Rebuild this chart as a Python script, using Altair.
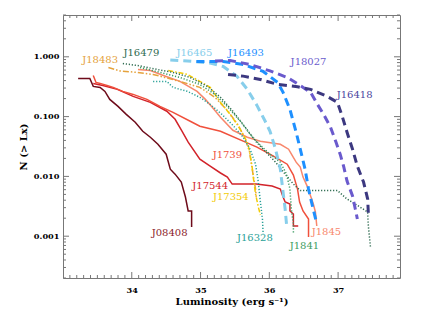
import altair as alt
import pandas as pd
import numpy as np

# ---- data: log luminosity (erg/s) vs cumulative fraction N(>Lx) ----
J08408_L = [33.22, 33.39, 33.44, 33.54, 33.61, 33.68, 33.80, 33.92, 34.05, 34.16, 34.27, 34.38, 34.50, 34.56, 34.63, 34.72, 34.78, 34.82, 34.87, 34.87]
J08408_N = [0.435, 0.435, 0.320, 0.308, 0.264, 0.194, 0.148, 0.109, 0.0804, 0.0569, 0.0452, 0.0345, 0.0235, 0.0132, 0.0109, 0.00804, 0.00452, 0.00264, 0.00264, 0.00143]

J17544_L = [33.44, 33.58, 33.79, 34.02, 34.27, 34.51, 34.63, 34.73, 34.82, 34.99, 35.14, 35.29, 35.39, 35.46, 35.81, 36.04, 36.16, 36.20, 36.23, 36.30, 36.30, 36.35, 36.35, 36.42]
J17544_N = [0.359, 0.332, 0.285, 0.218, 0.173, 0.123, 0.0902, 0.0569, 0.0373, 0.0194, 0.0148, 0.0114, 0.00973, 0.00744, 0.00744, 0.00689, 0.00614, 0.00452, 0.00373, 0.00345, 0.00264, 0.00235, 0.00148, 0.00148]

J1739_L = [33.44, 33.48, 33.54, 33.64, 33.73, 33.87, 34.02, 34.22, 34.41, 34.60, 34.85, 34.99, 35.29, 35.62, 35.82, 36.06, 36.26, 36.35, 36.41, 36.44, 36.49, 36.57, 36.57]
J1739_N = [0.488, 0.373, 0.359, 0.332, 0.308, 0.264, 0.235, 0.194, 0.148, 0.118, 0.0835, 0.0689, 0.0569, 0.0388, 0.0308, 0.0218, 0.0160, 0.0105, 0.00614, 0.00373, 0.00264, 0.00194, 0.000973]

J1845_L = [34.09, 34.27, 34.46, 34.70, 34.95, 35.07, 35.17, 35.29, 35.47, 35.68, 35.87, 36.16, 36.28, 36.33, 36.39, 36.45, 36.49, 36.55, 36.60, 36.64, 36.67, 36.69]
J1845_N = [0.614, 0.591, 0.488, 0.388, 0.264, 0.194, 0.143, 0.0973, 0.0591, 0.0452, 0.0388, 0.0345, 0.0285, 0.0226, 0.0173, 0.0143, 0.00973, 0.00689, 0.00470, 0.00345, 0.00254, 0.00148]

J18483_L = [33.66, 33.83, 34.08, 34.31, 34.48, 34.75, 34.99, 35.21, 35.40, 35.55, 35.65, 35.71, 35.74, 35.77, 35.80, 35.81]
J18483_N = [0.663, 0.580, 0.548, 0.507, 0.452, 0.373, 0.308, 0.210, 0.123, 0.0716, 0.0418, 0.0264, 0.0160, 0.00973, 0.00614, 0.00452]

J17354_L = [34.53, 34.81, 34.99, 35.14, 35.29, 35.43, 35.53, 35.62, 35.69, 35.72, 35.75, 35.77, 35.80, 35.84, 35.87]
J17354_N = [0.591, 0.507, 0.388, 0.308, 0.173, 0.109, 0.0744, 0.0507, 0.0345, 0.0235, 0.0143, 0.00902, 0.00507, 0.00308, 0.00226]

J16479_L = [33.87, 34.12, 34.37, 34.60, 34.85, 35.10, 35.29, 35.47, 35.65, 35.80, 35.94, 36.09, 36.23, 36.35, 36.45, 36.99, 37.13, 37.25, 37.43, 37.44, 37.47]
J16479_N = [0.773, 0.703, 0.614, 0.548, 0.452, 0.320, 0.210, 0.123, 0.0663, 0.0388, 0.0264, 0.0173, 0.0109, 0.00744, 0.00580, 0.00580, 0.00418, 0.00345, 0.00254, 0.00148, 0.000663]

J1841_L = [34.12, 34.41, 34.70, 34.99, 35.21, 35.40, 35.58, 35.72, 35.87, 36.01, 36.16, 36.25, 36.30, 36.32, 36.35, 36.35]
J1841_N = [0.663, 0.548, 0.452, 0.345, 0.235, 0.143, 0.0835, 0.0507, 0.0332, 0.0235, 0.0173, 0.0109, 0.00614, 0.00285, 0.00160, 0.00109]

J16328_L = [34.31, 34.51, 34.60, 34.81, 34.99, 35.14, 35.31, 35.47, 35.62, 35.72, 35.80, 35.84, 35.87, 35.90, 35.91]
J16328_N = [0.388, 0.388, 0.308, 0.264, 0.210, 0.160, 0.109, 0.0716, 0.0452, 0.0285, 0.0160, 0.00804, 0.00373, 0.00194, 0.00109]

J16465_L = [34.56, 34.81, 35.14, 35.33, 35.53, 35.68, 35.82, 35.94, 36.01, 36.09, 36.16, 36.20, 36.23, 36.25]
J16465_N = [0.884, 0.851, 0.788, 0.689, 0.470, 0.285, 0.154, 0.0835, 0.0569, 0.0285, 0.0132, 0.00547, 0.00285, 0.00160]

J16493_L = [34.94, 35.33, 35.62, 35.91, 36.12, 36.20, 36.30, 36.39, 36.45, 36.52, 36.57, 36.62, 36.68]
J16493_N = [0.835, 0.835, 0.744, 0.569, 0.373, 0.254, 0.132, 0.0547, 0.0285, 0.0132, 0.00614, 0.00345, 0.00180]

J18027_L = [35.21, 35.43, 35.72, 36.01, 36.26, 36.45, 36.60, 36.70, 36.79, 36.89, 36.97, 37.03, 37.08, 37.13, 37.21, 37.25, 37.28]
J18027_N = [0.851, 0.868, 0.744, 0.580, 0.452, 0.332, 0.254, 0.160, 0.109, 0.0663, 0.0373, 0.0235, 0.0148, 0.00835, 0.00470, 0.00285, 0.00194]

J16418_L = [35.40, 35.62, 35.87, 36.12, 36.41, 36.60, 36.84, 36.99, 37.06, 37.13, 37.21, 37.28, 37.37, 37.43, 37.44]
J16418_N = [0.507, 0.475, 0.418, 0.345, 0.316, 0.285, 0.218, 0.173, 0.101, 0.0547, 0.0285, 0.0148, 0.00804, 0.00418, 0.00235]

label_text = ["J18483", "J16479", "J16465", "J16493", "J18027", "J16418", "J1739", "J17544", "J17354", "J08408", "J16328", "J1841", "J1845"]
label_L = [33.54, 34.14, 34.91, 35.66, 36.57, 37.24, 35.39, 35.14, 35.44, 34.55, 35.79, 36.51, 36.83]
label_N = [0.88, 1.18, 1.18, 1.16, 0.82, 0.227, 0.0232, 0.0068, 0.0046, 0.00112, 0.00093, 0.00069, 0.00117]

x_major = [34, 35, 36, 37]
y_major = [0.001, 0.01, 0.1, 1.0]

# ---- styles ----
STYLE = {
    "J08408": dict(color="#6E0B1A", strokeWidth=1.5),
    "J17544": dict(color="#D2232A", strokeWidth=1.5),
    "J1739": dict(color="#F0503C", strokeWidth=1.5),
    "J1845": dict(color="#F8876C", strokeWidth=1.5),
    "J18483": dict(color="#E5A23C", strokeWidth=1.5, strokeDash=[6, 2, 1.5, 2, 1.5, 2]),
    "J17354": dict(color="#F2CB05", strokeWidth=1.5, strokeDash=[5, 2, 1.5, 2]),
    "J16479": dict(color="#2E6B50", strokeWidth=1.5, strokeDash=[1.2, 1.8]),
    "J1841": dict(color="#3D9C62", strokeWidth=1.5, strokeDash=[1.2, 1.8]),
    "J16328": dict(color="#2AA198", strokeWidth=1.5, strokeDash=[1.2, 1.8]),
    "J16465": dict(color="#87CEEB", strokeWidth=3, strokeDash=[8, 5]),
    "J16493": dict(color="#1E90FF", strokeWidth=3, strokeDash=[8, 5]),
    "J18027": dict(color="#6A5ACD", strokeWidth=3, strokeDash=[8, 5]),
    "J16418": dict(color="#3C3880", strokeWidth=3, strokeDash=[8, 5]),
}
LABEL_COLOR = {
    "J18483": "#E5A23C", "J16479": "#2E6B50", "J16465": "#87CEEB", "J16493": "#1E90FF",
    "J18027": "#6A5ACD", "J16418": "#4A44A0", "J1739": "#F0503C", "J17544": "#D2232A",
    "J17354": "#F2CB05", "J08408": "#8B1B2B", "J16328": "#2AA198", "J1841": "#3D9C62",
    "J1845": "#F8876C",
}

curves = {
    "J08408": (J08408_L, J08408_N), "J17544": (J17544_L, J17544_N),
    "J1739": (J1739_L, J1739_N), "J1845": (J1845_L, J1845_N),
    "J18483": (J18483_L, J18483_N), "J17354": (J17354_L, J17354_N),
    "J16479": (J16479_L, J16479_N), "J1841": (J1841_L, J1841_N),
    "J16328": (J16328_L, J16328_N), "J16465": (J16465_L, J16465_N),
    "J16493": (J16493_L, J16493_N), "J18027": (J18027_L, J18027_N),
    "J16418": (J16418_L, J16418_N),
}

W, H = 337, 263
FONT = "DejaVu Serif"
TC = "#777777"

xs = alt.Scale(domain=[33.0, 37.9], nice=False, zero=False)
ys = alt.Scale(type="log", domain=[2e-4, 5], nice=False)

x_axis = alt.Axis(values=x_major, format="d", ticks=False, tickSize=0, domain=False, grid=False,
                  labelPadding=8, title="Luminosity (erg s\u207b\u00b9)", titlePadding=3)
y_axis = alt.Axis(values=y_major, format=".3f", ticks=False, tickSize=0, domain=False, grid=False,
                  labelPadding=4, title="N (> Lx)", titlePadding=5)

X = lambda f: alt.X(f, scale=xs, axis=x_axis)
Y = lambda f: alt.Y(f, scale=ys, axis=y_axis)

layers = []
for name, (Ls, Ns) in curves.items():
    df = pd.DataFrame({"L": Ls, "N": Ns, "i": list(range(len(Ls)))})
    layers.append(
        alt.Chart(df).mark_line(clip=True, **STYLE[name]).encode(
            x=X("L:Q"), y=Y("N:Q"), order="i:Q",
        )
    )

# labels
lab_df = pd.DataFrame({"L": label_L, "N": label_N, "t": label_text,
                       "c": [LABEL_COLOR[t] for t in label_text]})
layers.append(
    alt.Chart(lab_df).mark_text(font=FONT, fontSize=10, align="center", baseline="middle").encode(
        x=X("L:Q"), y=Y("N:Q"),
        text="t:N",
        color=alt.Color("c:N", scale=None),
    )
)

# inward ticks (IDL style)
x_all = np.round(np.arange(33.1, 37.85, 0.1), 2)
x_minor = [v for v in x_all if abs(v - round(v)) > 1e-6]
y_minor = []
for d in range(-4, 1):
    for k in range(2, 10):
        v = k * 10.0 ** d
        if 2e-4 <= v <= 5:
            y_minor.append(v)

def xticks(vals, length):
    df = pd.DataFrame({"L": vals})
    bot = alt.Chart(df).mark_rule(color=TC, strokeWidth=1).encode(
        x=X("L:Q"), y=alt.value(H), y2=alt.value(H - length))
    top = alt.Chart(df).mark_rule(color=TC, strokeWidth=1).encode(
        x=X("L:Q"), y=alt.value(0), y2=alt.value(length))
    return [bot, top]

def yticks(vals, length):
    df = pd.DataFrame({"N": vals})
    left = alt.Chart(df).mark_rule(color=TC, strokeWidth=1).encode(
        y=Y("N:Q"), x=alt.value(0), x2=alt.value(length))
    right = alt.Chart(df).mark_rule(color=TC, strokeWidth=1).encode(
        y=Y("N:Q"), x=alt.value(W), x2=alt.value(W - length))
    return [left, right]

layers += xticks(x_minor, 3) + xticks(x_major, 6) + yticks(y_minor, 3) + yticks(y_major, 6)

chart = alt.layer(*layers).properties(
    width=W, height=H,
    padding={"left": 55, "top": 7, "right": 13, "bottom": 30},
    autosize=alt.AutoSizeParams(type="none"),
    background="white",
).configure_view(
    stroke=TC, strokeWidth=1
).configure_axis(
    labelFont=FONT, labelFontSize=8.2, labelFontWeight="bold", labelColor="black",
    titleFont=FONT, titleFontSize=10, titleFontWeight="bold", titleColor="black",
)

chart.save("out.html", embed_options={"renderer": "svg", "actions": False})
